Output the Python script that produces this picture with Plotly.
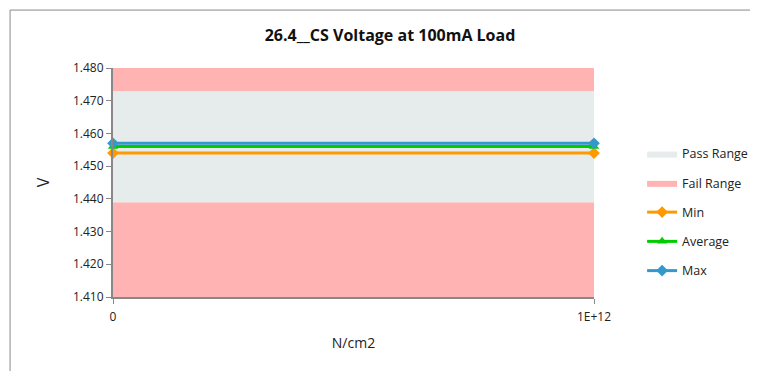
import plotly.graph_objects as go

x_vals = [0, 1e12]
x_ticktext = ["0", "1E+12"]
min_vals = [1.454, 1.454]
avg_vals = [1.456, 1.456]
max_vals = [1.457, 1.457]
pass_low = 1.439
pass_high = 1.473
y_lo = 1.410
y_hi = 1.480
y_ticks = [1.410, 1.420, 1.430, 1.440, 1.450, 1.460, 1.470, 1.480]

PASS_C = "#E6EBEB"
FAIL_C = "#FFB3B3"

fig = go.Figure()

def flat(v):
    return [v for _ in x_vals]

fig.add_trace(go.Scatter(x=x_vals, y=flat(y_lo), mode="lines", line=dict(width=0),
                         showlegend=False, hoverinfo="skip"))
fig.add_trace(go.Scatter(x=x_vals, y=flat(pass_low), mode="lines", line=dict(width=0),
                         fill="tonexty", fillcolor=FAIL_C, name="Fail Range",
                         legendgroup="fail", legendrank=2))
fig.add_trace(go.Scatter(x=x_vals, y=flat(pass_high), mode="lines", line=dict(width=0),
                         fill="tonexty", fillcolor=PASS_C, name="Pass Range",
                         legendgroup="pass", legendrank=1))
fig.add_trace(go.Scatter(x=x_vals, y=flat(y_hi), mode="lines", line=dict(width=0),
                         fill="tonexty", fillcolor=FAIL_C, showlegend=False,
                         hoverinfo="skip"))

fig.add_trace(go.Scatter(x=x_vals, y=min_vals, mode="lines+markers", name="Min",
                         line=dict(color="#FF9900", width=3), cliponaxis=False,
                         marker=dict(symbol="diamond", size=9, color="#FF9900"),
                         legendgroup="min", legendrank=3))
fig.add_trace(go.Scatter(x=x_vals, y=avg_vals, mode="lines+markers", name="Average",
                         line=dict(color="#00CC00", width=3), cliponaxis=False,
                         marker=dict(symbol="triangle-up", size=9, color="#00CC00"),
                         legendgroup="avg", legendrank=4))
fig.add_trace(go.Scatter(x=x_vals, y=max_vals, mode="lines+markers", name="Max",
                         line=dict(color="#3399CC", width=3), cliponaxis=False,
                         marker=dict(symbol="diamond", size=9, color="#3399CC"),
                         legendgroup="max", legendrank=5))

fig.update_layout(
    width=758, height=371,
    margin=dict(l=105, r=172, t=60, b=82, autoexpand=False),
    paper_bgcolor="white", plot_bgcolor="white",
    font=dict(family="Open Sans, Liberation Sans, sans-serif", size=12, color="#222"),
    title=dict(text="<b>26.4__CS Voltage at 100mA Load</b>", x=382 / 758, xref="container",
               xanchor="center",
               y=1 - 27 / 371, yanchor="middle", font=dict(size=16, color="#111")),
    xaxis=dict(range=[0, 1e12], tickvals=x_vals, ticktext=x_ticktext,
               showgrid=False, zeroline=False, showline=True, linecolor="#888",
               linewidth=2, ticks="outside", ticklen=5, tickcolor="#888",
               automargin=False, ticklabelstandoff=3,
               title=dict(text="N/cm2", font=dict(size=14), standoff=14)),
    yaxis=dict(range=[y_lo, y_hi], tickvals=y_ticks, tickformat=".3f",
               showgrid=False, zeroline=False, showline=True, linecolor="#888",
               linewidth=2, ticks="outside", ticklen=5, tickcolor="#888",
               automargin=False,
               title=dict(text="V", font=dict(size=16), standoff=19)),
    legend=dict(x=1.1, y=0.69, xanchor="left", yanchor="top", tracegroupgap=10,
                font=dict(size=12.5), bgcolor="rgba(0,0,0,0)"),
    shapes=[dict(type="rect", xref="paper", yref="paper", x0=-0.214, x1=1.5,
                 y0=-0.6, y1=1.253, line=dict(color="#888", width=1),
                 fillcolor="rgba(0,0,0,0)", layer="below")],
    showlegend=True,
)

fig.write_html("out.html")
